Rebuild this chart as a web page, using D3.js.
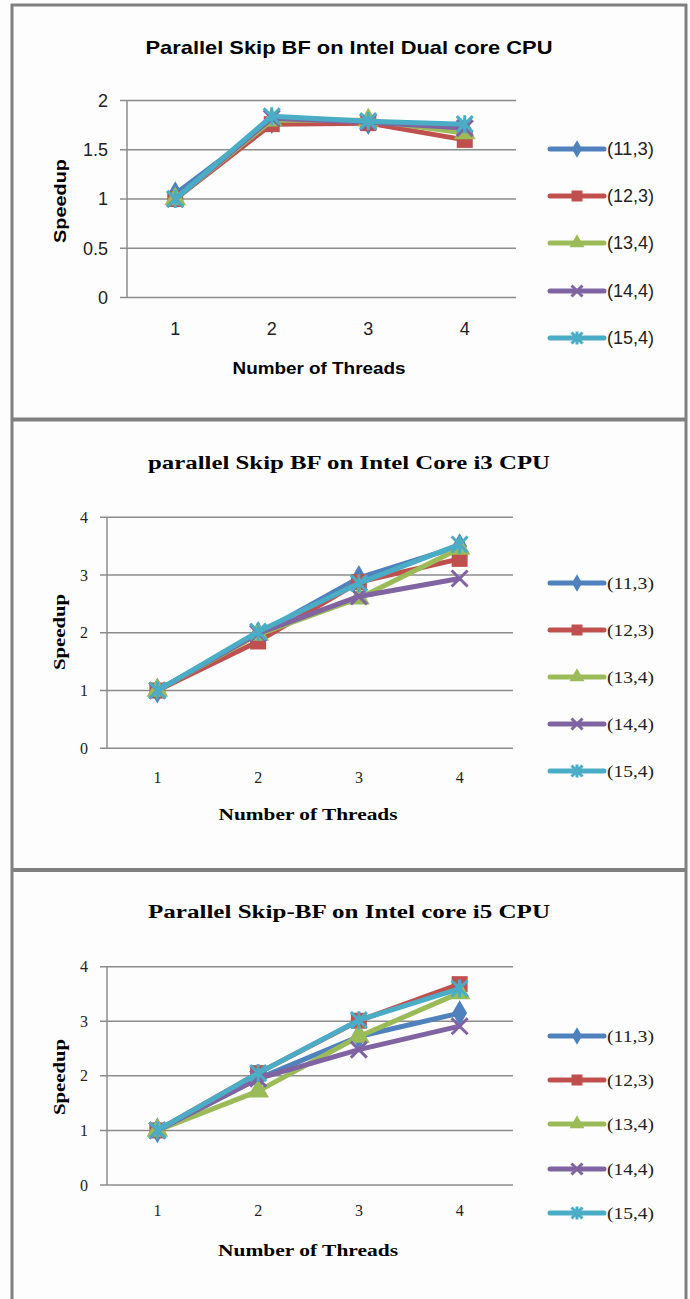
<!DOCTYPE html>
<html>
<head>
<meta charset="utf-8">
<script src="https://cdn.jsdelivr.net/npm/d3@7"></script>
<style>
  body { margin: 0; background: #fff; }
  svg { display: block; }
</style>
</head>
<body>
<div id="root"></div>
<script>
// number of threads on the x axis
const threads = [1, 2, 3, 4];
const seriesNames = ["(11,3)", "(12,3)", "(13,4)", "(14,4)", "(15,4)"];

// speedup values, one row per series
const dualCore = [
    [1.05, 1.79, 1.78, 1.70],
    [1.00, 1.76, 1.77, 1.60],
    [1.00, 1.80, 1.80, 1.67],
    [1.00, 1.82, 1.78, 1.72],
    [1.00, 1.84, 1.79, 1.76]
];
const coreI3 = [
    [1.00, 1.98, 2.95, 3.50],
    [1.00, 1.85, 2.88, 3.28],
    [1.00, 1.97, 2.60, 3.46],
    [1.00, 1.99, 2.63, 2.94],
    [1.00, 2.02, 2.86, 3.53]
];
const coreI5 = [
    [1.00, 1.95, 2.72, 3.15],
    [1.00, 2.05, 3.01, 3.68],
    [1.00, 1.72, 2.72, 3.52],
    [1.00, 1.95, 2.48, 2.91],
    [1.00, 2.05, 3.02, 3.60]
];

const ticksDual = [0, 0.5, 1, 1.5, 2];
const ticksCore = [0, 1, 2, 3, 4];

const colors = ["#4F81BD", "#C0504D", "#9BBB59", "#8064A2", "#4BACC6"];
const shapes = ["diamond", "square", "triangle", "x", "star"];

const sansFont = "'Liberation Sans Narrow', 'Liberation Sans', sans-serif";
const serifFont = "'Liberation Serif', 'DejaVu Serif', serif";

const svg = d3.select("#root")
    .append("svg")
    .attr("width", 690)
    .attr("height", 1299);

// frame
const frame = "#808080";
svg.append("rect").attr("x", 0).attr("y", 0).attr("width", 690).attr("height", 1299).attr("fill", "#fdfdfd");
svg.append("line").attr("x1", 12).attr("x2", 12).attr("y1", 4).attr("y2", 1299).attr("stroke", frame).attr("stroke-width", 3);
svg.append("line").attr("x1", 686).attr("x2", 686).attr("y1", 4).attr("y2", 1299).attr("stroke", frame).attr("stroke-width", 3);
svg.append("line").attr("x1", 11).attr("x2", 687).attr("y1", 5).attr("y2", 5).attr("stroke", frame).attr("stroke-width", 3);
svg.append("line").attr("x1", 11).attr("x2", 687).attr("y1", 419.5).attr("y2", 419.5).attr("stroke", frame).attr("stroke-width", 4);
svg.append("line").attr("x1", 11).attr("x2", 687).attr("y1", 870).attr("y2", 870).attr("stroke", frame).attr("stroke-width", 4);

function marker(g, shape, size, color) {
    if (shape === "diamond") {
        g.append("path").attr("d", d3.symbol(d3.symbolDiamond, size * size * 0.75)()).attr("fill", color);
    } else if (shape === "square") {
        g.append("path").attr("d", d3.symbol(d3.symbolSquare, size * size)()).attr("fill", color);
    } else if (shape === "triangle") {
        g.append("path").attr("d", d3.symbol(d3.symbolTriangle, size * size * 0.8)()).attr("fill", color);
    } else {
        const h = size / 2;
        let d = `M${-h},${-h}L${h},${h}M${-h},${h}L${h},${-h}`;
        if (shape === "star") d += `M0,${-h - 1}L0,${h + 1}`;
        g.append("path").attr("d", d).attr("stroke", color).attr("stroke-width", size > 10 ? 3 : 2).attr("fill", "none");
    }
}

function drawPanel(p) {
    const x = d3.scalePoint().domain(threads).range([p.x0, p.x1]).padding(0.5);
    const y = d3.scaleLinear().domain([0, p.yMax]).range([p.yBot, p.yTop]);

    // gridlines
    svg.append("g")
        .selectAll("line")
        .data(p.ticks)
        .join("line")
        .attr("x1", p.x0 - 7).attr("x2", p.x1 + 3)
        .attr("y1", d => y(d)).attr("y2", d => y(d))
        .attr("stroke", "#8c8c8c").attr("stroke-width", 1.5);
    svg.append("line")
        .attr("x1", p.x0).attr("x2", p.x0)
        .attr("y1", p.yTop).attr("y2", p.yBot)
        .attr("stroke", "#8c8c8c").attr("stroke-width", 1.5);

    // tick labels
    svg.append("g")
        .selectAll("text")
        .data(p.ticks)
        .join("text")
        .attr("x", p.x0 - 19).attr("y", d => y(d))
        .attr("dy", "0.35em").attr("text-anchor", "end")
        .attr("font-family", p.font).attr("font-size", p.tickSize).attr("fill", "#222")
        .text(d => d);
    svg.append("g")
        .selectAll("text")
        .data(threads)
        .join("text")
        .attr("x", d => x(d)).attr("y", p.yBot + p.xLabelOff)
        .attr("text-anchor", "middle")
        .attr("font-family", p.font).attr("font-size", p.tickSize).attr("fill", "#222")
        .text(d => d);

    // titles
    svg.append("text")
        .attr("x", p.titleX).attr("y", p.titleY)
        .attr("text-anchor", "middle")
        .attr("font-family", p.font).attr("font-weight", "bold").attr("font-size", p.titleSize)
        .attr("textLength", p.titleW).attr("lengthAdjust", "spacingAndGlyphs")
        .text(p.title);
    svg.append("text")
        .attr("x", p.xTitleX).attr("y", p.xTitleY)
        .attr("text-anchor", "middle")
        .attr("font-family", p.font).attr("font-weight", "bold").attr("font-size", p.axisSize)
        .attr("textLength", p.xTitleW).attr("lengthAdjust", "spacingAndGlyphs")
        .text("Number of Threads");
    svg.append("text")
        .attr("transform", `translate(${p.yTitleX},${p.yTitleY}) rotate(-90)`)
        .attr("text-anchor", "middle")
        .attr("font-family", p.font).attr("font-weight", "bold").attr("font-size", p.axisSize)
        .attr("textLength", p.yTitleW).attr("lengthAdjust", "spacingAndGlyphs")
        .text("Speedup");

    // series
    const line = d3.line().x((d, i) => x(threads[i])).y(d => y(d));
    p.data.forEach((vals, s) => {
        const g = svg.append("g");
        g.append("path")
            .attr("d", line(vals))
            .attr("fill", "none")
            .attr("stroke", colors[s]).attr("stroke-width", 5)
            .attr("stroke-linejoin", "round");
        vals.forEach((v, i) => {
            const m = g.append("g").attr("transform", `translate(${x(threads[i])},${y(v)})`);
            marker(m, shapes[s], 16, colors[s]);
        });
    });

    // legend
    seriesNames.forEach((name, s) => {
        const ly = p.legendY[s];
        const g = svg.append("g");
        g.append("line")
            .attr("x1", 550).attr("x2", 604).attr("y1", ly).attr("y2", ly)
            .attr("stroke", colors[s]).attr("stroke-width", 5).attr("stroke-linecap", "round");
        const m = g.append("g").attr("transform", `translate(577,${ly})`);
        marker(m, shapes[s], 11, colors[s]);
        g.append("text")
            .attr("x", 607).attr("y", ly).attr("dy", "0.35em")
            .attr("font-family", p.font).attr("font-size", p.legendSize).attr("fill", "#222")
            .attr("textLength", 47).attr("lengthAdjust", "spacingAndGlyphs")
            .text(name);
    });
}

drawPanel({
    data: dualCore, ticks: ticksDual, yMax: 2,
    x0: 127, x1: 513, yTop: 100.5, yBot: 297.5,
    font: sansFont, tickSize: 18, titleSize: 19, axisSize: 17, legendSize: 18,
    title: "Parallel Skip BF on Intel Dual core CPU", titleX: 349, titleY: 54, titleW: 407,
    xLabelOff: 37, xTitleX: 319, xTitleY: 374, xTitleW: 173,
    yTitleX: 66, yTitleY: 201, yTitleW: 84,
    legendY: [149, 196, 243, 291, 338]
});

drawPanel({
    data: coreI3, ticks: ticksCore, yMax: 4,
    x0: 107, x1: 510, yTop: 517.3, yBot: 748.3,
    font: serifFont, tickSize: 16, titleSize: 19, axisSize: 17, legendSize: 17,
    title: "parallel Skip BF on Intel Core i3 CPU", titleX: 349, titleY: 469, titleW: 402,
    xLabelOff: 35, xTitleX: 308, xTitleY: 820, xTitleW: 179,
    yTitleX: 65, yTitleY: 632, yTitleW: 76,
    legendY: [583, 630, 677, 724, 771]
});

drawPanel({
    data: coreI5, ticks: ticksCore, yMax: 4,
    x0: 107, x1: 510, yTop: 966.7, yBot: 1185,
    font: serifFont, tickSize: 16, titleSize: 19, axisSize: 17, legendSize: 17,
    title: "Parallel Skip-BF on Intel core i5 CPU", titleX: 349, titleY: 918, titleW: 402,
    xLabelOff: 31, xTitleX: 308, xTitleY: 1256, xTitleW: 180,
    yTitleX: 65, yTitleY: 1077, yTitleW: 76,
    legendY: [1036, 1080, 1124, 1169, 1213]
});
</script>
</body>
</html>
